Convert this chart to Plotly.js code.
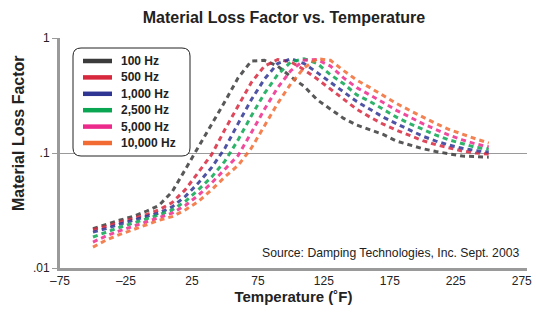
<!DOCTYPE html>
<html>
<head>
<meta charset="utf-8">
<script src="https://cdn.plot.ly/plotly-3.0.1.min.js"></script>
<style>html,body{margin:0;padding:0;background:#fff;}#chart{width:536px;height:315px;}</style>
</head>
<body>
<div id="chart"></div>
<script>
// Temperature (°F)
const temps = [-50,-40,-30,-20,-10,0,10,20,30,40,50,60,70,80,90,100,110,120,130,140,150,160,170,180,190,200,210,220,230,240,250];
const seriesNames = ["100 Hz","500 Hz","1,000 Hz","2,500 Hz","5,000 Hz","10,000 Hz"];
const loss100 =   [0.022,0.024,0.026,0.028,0.031,0.035,0.046,0.072,0.113,0.18,0.28,0.45,0.63,0.64,0.57,0.46,0.38,0.29,0.24,0.2,0.175,0.16,0.145,0.127,0.117,0.109,0.103,0.098,0.094,0.093,0.092];
const loss500 =   [0.0215,0.023,0.025,0.027,0.029,0.032,0.037,0.048,0.068,0.097,0.16,0.26,0.41,0.57,0.65,0.62,0.53,0.44,0.36,0.29,0.24,0.205,0.178,0.158,0.142,0.128,0.118,0.11,0.104,0.1,0.098];
const loss1000 =  [0.0205,0.022,0.024,0.026,0.028,0.030,0.034,0.042,0.055,0.075,0.11,0.18,0.29,0.44,0.6,0.66,0.6,0.5,0.41,0.34,0.28,0.24,0.205,0.18,0.158,0.14,0.127,0.117,0.11,0.105,0.102];
const loss2500 =  [0.0186,0.0205,0.0225,0.0245,0.0265,0.029,0.032,0.038,0.048,0.062,0.085,0.13,0.21,0.33,0.48,0.62,0.66,0.6,0.48,0.4,0.32,0.28,0.24,0.205,0.18,0.16,0.143,0.13,0.12,0.112,0.108];
const loss5000 =  [0.0168,0.019,0.021,0.023,0.025,0.0275,0.030,0.035,0.043,0.055,0.072,0.095,0.15,0.24,0.37,0.52,0.64,0.65,0.57,0.45,0.37,0.32,0.275,0.235,0.205,0.18,0.16,0.143,0.13,0.12,0.113];
const loss10000 = [0.0152,0.0175,0.0195,0.0215,0.0235,0.026,0.028,0.032,0.038,0.048,0.062,0.078,0.11,0.17,0.27,0.40,0.55,0.66,0.64,0.52,0.43,0.37,0.315,0.27,0.235,0.205,0.18,0.16,0.145,0.133,0.122];
const seriesValues = [loss100, loss500, loss1000, loss2500, loss5000, loss10000];
const colors = ["#3b3b3b","#d8283e","#2f3593","#0aa651","#ec2a8c","#f26b32"];
const xTickVals = [-75,-25,25,75,125,175,225,275];
const xTickText = ["\u201375","\u201325","25","75","125","175","225","275"];
const yTickVals = [0.01,0.1,1];
const yTickText = [".01",".1","1"];

// page geometry (pixels) -> paper coordinates
const W = 536, H = 315, ML = 60, MR = 9, MT = 38, MB = 47;
const PW = W - ML - MR, PH = H - MT - MB;
const px = v => (v - ML) / PW;
const py = v => (H - MB - v) / PH;

const traces = seriesValues.map((vals, i) => ({
  x: temps, y: vals, type: "scatter", mode: "lines", name: seriesNames[i],
  showlegend: false,
  line: {color: colors[i], width: 3, dash: "5px,4px"},
  opacity: 0.85, hoverinfo: "skip"
}));

// hand-built legend (rounded box, solid swatches)
const bx0 = 73, bx1 = 190, by0 = 48, by1 = 156, r = 8;
const boxPath = `M ${px(bx0)} ${py(by0 + r)} Q ${px(bx0)} ${py(by0)} ${px(bx0 + r)} ${py(by0)} ` +
  `L ${px(bx1 - r)} ${py(by0)} Q ${px(bx1)} ${py(by0)} ${px(bx1)} ${py(by0 + r)} ` +
  `L ${px(bx1)} ${py(by1 - r)} Q ${px(bx1)} ${py(by1)} ${px(bx1 - r)} ${py(by1)} ` +
  `L ${px(bx0 + r)} ${py(by1)} Q ${px(bx0)} ${py(by1)} ${px(bx0)} ${py(by1 - r)} Z`;
const shapes = [{
  type: "path", xref: "paper", yref: "paper", layer: "above", path: boxPath,
  line: {color: "#222", width: 1}, fillcolor: "#fff"
}];
const annotations = [];
seriesNames.forEach((name, i) => {
  const yy = 61 + i * 16.4;
  shapes.push({type: "line", xref: "paper", yref: "paper", layer: "above",
    x0: px(83), x1: px(112), y0: py(yy), y1: py(yy), line: {color: colors[i], width: 4.5}});
  annotations.push({text: "<b>" + name + "</b>", xref: "paper", yref: "paper",
    x: px(119), y: py(yy), xanchor: "left", yanchor: "middle", showarrow: false,
    font: {size: 12, color: "#222"}});
});
annotations.push({
  text: "Source: Damping Technologies, Inc. Sept. 2003",
  xref: "paper", yref: "paper", x: px(521), y: py(253), xanchor: "right", yanchor: "middle",
  showarrow: false, font: {size: 12.2, color: "#222"}
});
annotations.push({
  text: "<b>Material Loss Factor</b>", textangle: -90,
  xref: "paper", yref: "paper", x: px(18), y: py(133), xanchor: "center", yanchor: "middle",
  showarrow: false, font: {size: 16, color: "#222"}
});

const layout = {
  width: W, height: H,
  margin: {l: ML, r: MR, t: MT, b: MB},
  paper_bgcolor: "#fff", plot_bgcolor: "#fff",
  font: {family: "Arial, Liberation Sans, sans-serif", color: "#222"},
  title: {text: "<b>Material Loss Factor vs. Temperature</b>", x: 284 / W, xref: "container", xanchor: "center",
          y: 1 - 17 / H, yref: "container", yanchor: "middle", font: {size: 16, color: "#222"}},
  showlegend: false,
  xaxis: {
    range: [-75, 279], tickvals: xTickVals, ticktext: xTickText,
    showgrid: false, zeroline: false, showline: true, linecolor: "#9a9a9a", linewidth: 3,
    ticks: "", tickfont: {size: 12, color: "#222"},
    title: {text: "<b>Temperature (\u02daF)</b>", font: {size: 15, color: "#222"}, standoff: 5}
  },
  yaxis: {
    type: "log", range: [-2, 0], tickvals: yTickVals, ticktext: yTickText,
    showgrid: true, gridcolor: "#9a9a9a", gridwidth: 1, zeroline: false,
    showline: true, linecolor: "#9a9a9a", linewidth: 3,
    ticks: "outside", ticklen: 5, tickcolor: "#9a9a9a", tickwidth: 1,
    tickfont: {size: 12, color: "#222"}
  },
  shapes: shapes,
  annotations: annotations
};

Plotly.newPlot("chart", traces, layout, {displayModeBar: false, staticPlot: true});
</script>
</body>
</html>
